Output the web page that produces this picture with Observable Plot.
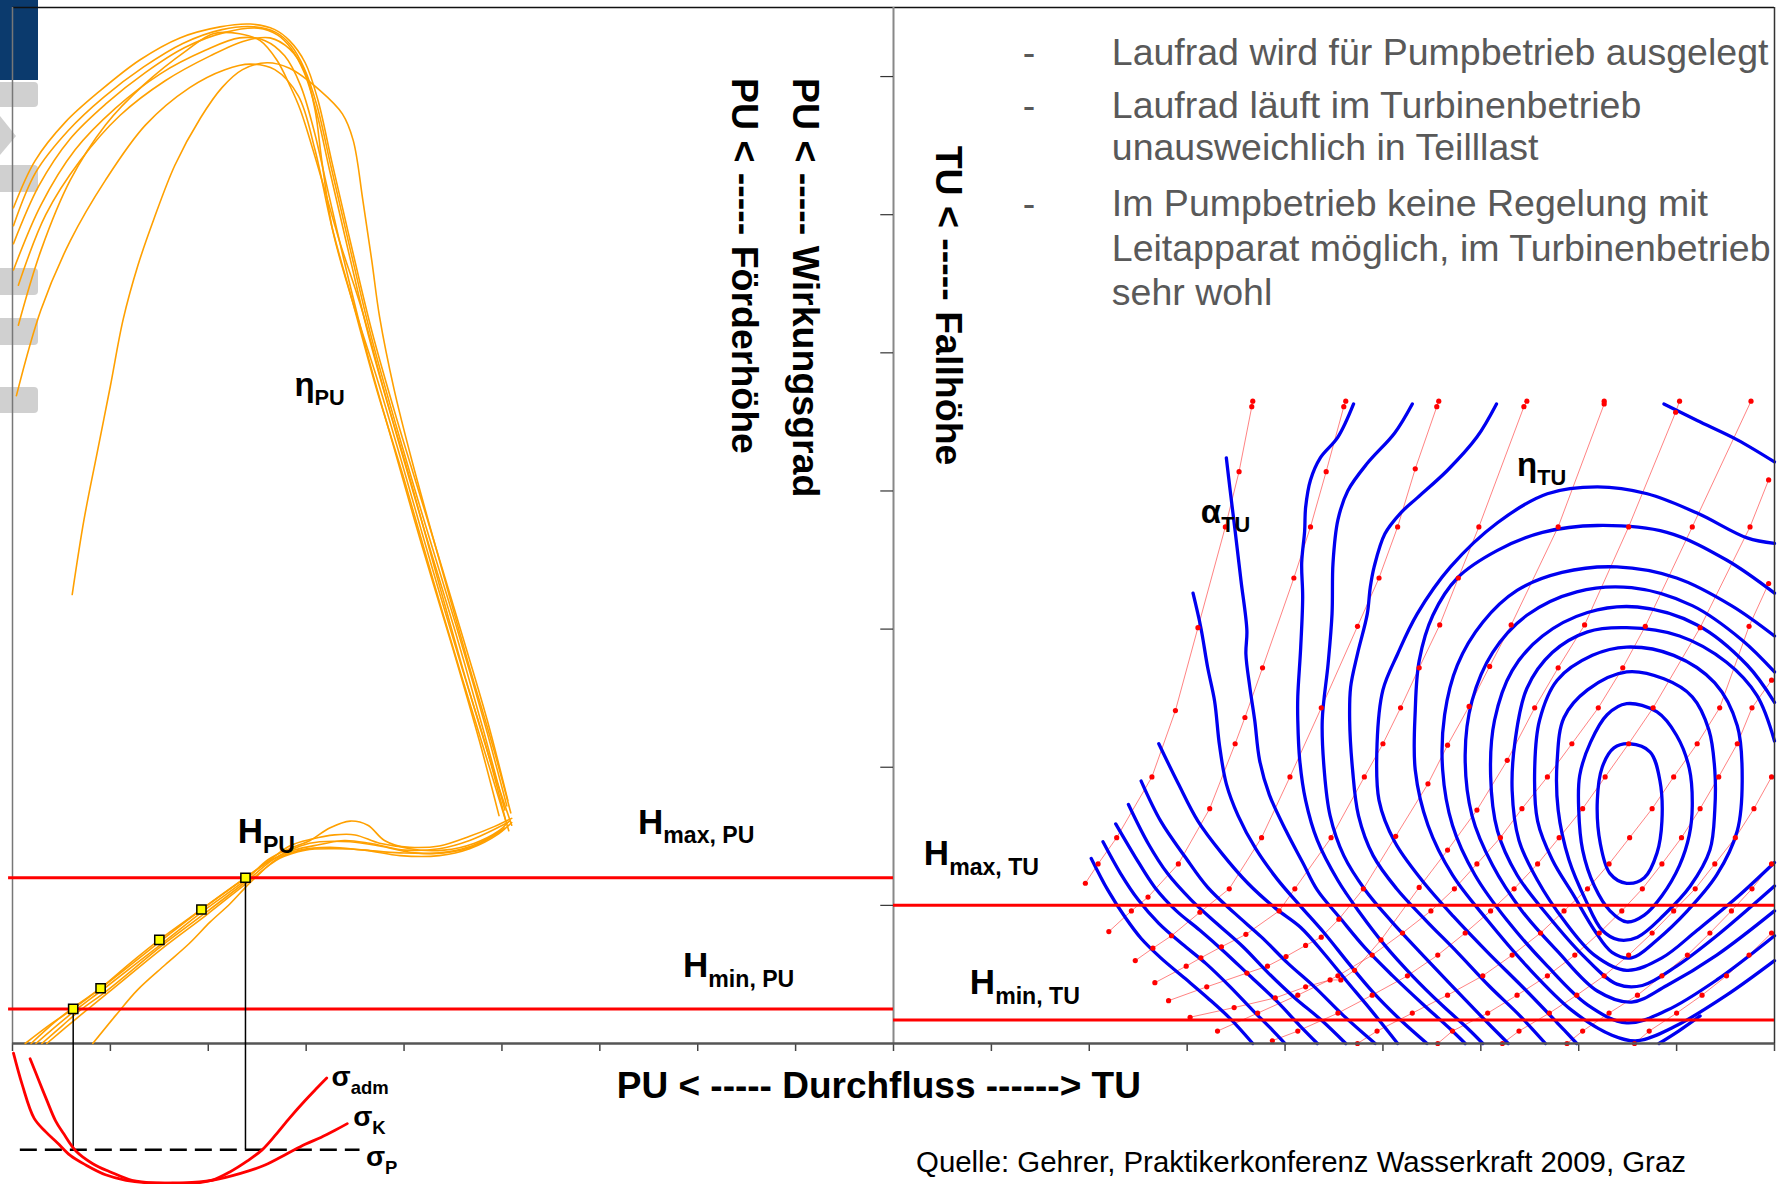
<!DOCTYPE html>
<html><head><meta charset="utf-8">
<script src="https://cdn.jsdelivr.net/npm/d3@7"></script>
<script src="https://cdn.jsdelivr.net/npm/@observablehq/plot@0.6"></script>
<style>
html,body{margin:0;padding:0;background:#fff;overflow:hidden;}
#wrap{position:relative;width:1780px;height:1184px;}
.deco{position:absolute;left:0;width:38px;background:#d0d0d0;border-radius:0 4px 4px 0;}
#chart{position:absolute;left:0;top:0;}
</style></head><body>
<div id="wrap">
  <div style="position:absolute;left:0;top:0;width:38px;height:80px;background:#0b3a6d"></div>
  <div class="deco" style="top:82px;height:25px"></div>
  <svg style="position:absolute;left:0;top:116px" width="20" height="40"><polygon points="0,0 16,20 0,39" fill="#d0d0d0"/></svg>
  <div class="deco" style="top:165px;height:27px"></div>
  <div class="deco" style="top:268px;height:27px"></div>
  <div class="deco" style="top:318px;height:27px"></div>
  <div class="deco" style="top:387px;height:26px"></div>
  <div id="chart"></div>
</div>
<script>
// ---------- axis ticks ----------
const xTicks = [0,100,200,300,400,500,600,700,800,900,1000,1100,1200,1300,1400,1500,1600,1700,1800];
const yTicksTU = [100,200,300,400,500,600,700];

// ---------- pump mode (PU): efficiency curves ----------
const etaPU1 = [[1,605],[23,639],[54,667],[90,690],[130,712],[171,728],[212,736],[243,738],[268,734],[283,726],[299,710],[312,683],[326,639],[345,581],[367,516],[393,451],[424,379],[455,306],[485,234],[506,176]];
const etaPU2 = [[1,579],[27,621],[59,655],[95,680],[136,703],[176,721],[217,732],[251,735],[271,730],[285,720],[298,703],[310,676],[324,632],[343,574],[365,509],[391,444],[421,371],[452,299],[481,227],[503,169]];
const etaPU3 = [[1,560],[29,607],[64,647],[105,677],[151,702],[197,719],[232,728],[258,726],[278,715],[294,694],[308,661],[322,618],[340,563],[363,498],[389,433],[418,361],[449,288],[477,219],[497,165]];
const etaPU4 = [[6,549],[34,600],[69,639],[110,672],[156,697],[202,715],[238,726],[263,728],[283,720],[299,703],[309,676],[316,639],[327,589],[347,538],[373,480],[400,415],[428,346],[457,277],[485,212],[504,161]];
const etaPU5 = [[6,520],[29,574],[59,625],[95,665],[134,694],[178,719],[205,731],[232,731],[253,726],[270,712],[283,694],[294,676],[314,630],[334,581],[357,531],[381,469],[408,404],[436,332],[465,259],[492,196],[510,158]];
const etaPU6 = [[4,469],[29,531],[59,581],[95,625],[136,665],[181,692],[217,705],[243,709],[268,705],[292,686],[309,647],[326,592],[347,538],[371,476],[399,411],[427,342],[457,270],[485,205],[507,154]];
const etaPU7 = [[1,592],[24,631],[57,661],[93,685],[134,707],[174,724],[214,734],[247,736],[269,732],[284,723],[298,706],[311,679],[325,636],[344,578],[366,513],[392,447],[422,375],[453,303],[483,230],[505,172]];
const etaPUwide = [[61,325],[73,379],[86,426],[100,476],[113,524],[128,563],[144,596],[166,636],[192,670],[214,692],[235,705],[260,710],[283,706],[314,690],[337,673],[348,654],[358,610],[367,567],[375,526],[390,473],[408,422],[436,350],[465,277],[492,212],[509,167]];

// ---------- pump mode: head curves ----------
const hPU1 = [[13,0],[39,14],[62,25],[90,40],[120,58],[150,75],[193,97],[238,120],[263,133],[283,143],[306,148],[329,151],[350,151],[375,145],[406,142],[436,143],[467,150],[492,157],[510,163]];
const hPU2 = [[19,0],[44,16],[64,27],[92,41],[151,74],[193,97],[238,120],[265,133],[288,140],[314,144],[339,147],[365,145],[401,140],[436,141],[467,147],[495,156],[508,161]];
const hPU3 = [[24,0],[47,14],[66,25],[94,40],[152,72],[195,96],[239,119],[261,133],[283,141],[304,147],[324,156],[345,161],[363,158],[380,147],[406,141],[441,140],[472,145],[497,154],[506,160]];
const hPU4 = [[30,0],[51,13],[69,24],[96,38],[153,71],[196,94],[240,118],[268,134],[294,143],[314,146],[345,146],[375,143],[411,138],[441,138],[472,143],[503,156]];
const hPU5 = [[35,0],[55,12],[72,22],[98,37],[155,70],[198,93],[241,117],[273,134],[299,140],[329,141],[360,140],[396,136],[436,136],[467,141],[497,152],[510,160]];
const hPUwide = [[82,0],[105,20],[128,39],[156,57],[180,72],[202,88],[222,101],[238,113],[248,120],[271,134],[294,140],[324,142],[360,140],[396,138],[436,138],[469,143],[500,154]];
const pumpPoints = [[62,25],[90,40],[150,75],[193,97],[238,120]];

// ---------- cavitation (sigma) curves ----------
const sigmaAdm = [[1,-7],[10,-30],[22,-54],[34,-64],[46,-72],[59,-81],[75,-88],[95,-95],[116,-99],[141,-101],[163,-101],[187,-101],[204,-99],[222,-93],[240,-85],[255,-77],[269,-66],[283,-54],[298,-42],[310,-33],[321,-25]];
const sigmaK = [[18,-11],[27,-27],[35,-41],[44,-56],[52,-65],[65,-78],[82,-87],[100,-93],[122,-99],[149,-101],[175,-101],[204,-99],[233,-94],[258,-88],[280,-80],[299,-73],[315,-68],[329,-63],[342,-58]];
const sigmaP = -77;

// ---------- head limits ----------
const hMaxPU = 120, hMinPU = 25, hMaxTU = 100, hMinTU = 17;

// ---------- turbine mode (TU): efficiency hill chart ----------
const etaTUd1 = [[1102,134],[1119,111],[1137,91],[1153,76],[1173,62],[1198,47],[1221,33],[1244,18],[1267,0]];
const etaTUd2 = [[1114,146],[1132,123],[1150,104],[1171,87],[1195,72],[1219,58],[1244,41],[1267,24],[1288,9],[1300,0]];
const etaTUd3 = [[1127,159],[1147,135],[1167,113],[1189,96],[1213,82],[1237,67],[1264,49],[1291,31],[1315,13],[1333,0]];
const etaTUd4 = [[1140,173],[1160,145],[1180,123],[1204,104],[1230,87],[1257,70],[1283,51],[1310,33],[1337,17],[1362,0]];
const etaTUd5 = [[1153,190],[1173,161],[1198,135],[1221,113],[1249,94],[1276,77],[1303,58],[1330,41],[1360,20],[1392,0]];
const etaTUd6 = [[1171,217],[1191,188],[1211,161],[1235,138],[1262,116],[1290,98],[1316,84],[1340,65],[1362,46],[1388,24],[1415,0]];
const etaTUs7 = [[1206,326],[1214,301],[1221,272],[1228,248],[1233,216],[1240,188],[1252,165],[1270,141],[1292,119],[1315,100],[1340,80],[1365,58],[1390,37],[1418,17],[1445,0]];
const etaTUs8 = [[1240,424],[1244,400],[1249,371],[1255,335],[1261,299],[1260,282],[1264,258],[1269,234],[1274,205],[1284,180],[1301,154],[1318,131],[1333,111],[1356,91],[1382,69],[1410,49],[1440,29],[1468,11],[1484,0]];
const etaTUg = [[1370,463],[1354,439],[1336,424],[1326,408],[1321,388],[1320,371],[1317,348],[1318,323],[1316,287],[1313,251],[1313,234],[1315,205],[1321,176],[1333,147],[1354,118],[1376,95],[1402,71],[1430,49],[1460,28],[1488,10],[1502,0]];
const etaTUh = [[1430,463],[1412,442],[1384,420],[1364,400],[1354,379],[1349,348],[1348,311],[1344,275],[1338,234],[1340,198],[1346,165],[1360,136],[1382,111],[1408,89],[1438,66],[1470,42],[1500,20],[1528,0]];
const etaTUi = [[1516,463],[1496,439],[1466,415],[1435,395],[1418,384],[1402,369],[1391,345],[1387,330],[1384,311],[1374,282],[1367,258],[1366,234],[1369,198],[1375,165],[1390,136],[1414,112],[1444,89],[1476,66],[1508,42],[1540,20],[1566,0]];
const etaTU10 = [[1800,362],[1772,366],[1721,384],[1670,398],[1619,403],[1568,398],[1517,377],[1469,345],[1435,311],[1415,282],[1400,256],[1394,217],[1396,176],[1412,146],[1440,118],[1472,92],[1507,66],[1544,40],[1578,15],[1598,0]];
const etaTU10r = [[1682,0],[1702,9],[1724,20]];
const etaTU9 = [[1800,326],[1751,350],[1690,370],[1619,375],[1563,370],[1517,357],[1476,337],[1451,310],[1437,277],[1433,241],[1433,198],[1446,158],[1471,122],[1507,89],[1547,56],[1593,24],[1634,6],[1660,2],[1700,13],[1751,35],[1800,60]];
const etaTU8 = [[1800,295],[1756,317],[1700,337],[1639,345],[1583,341],[1537,328],[1502,305],[1476,274],[1463,238],[1461,198],[1471,158],[1494,122],[1527,89],[1568,56],[1609,28],[1649,15],[1690,24],[1741,46],[1800,78]];
const etaTU7 = [[1800,269],[1767,292],[1716,317],[1654,330],[1598,327],[1547,310],[1512,283],[1491,248],[1484,209],[1491,165],[1512,129],[1542,96],[1578,67],[1619,38],[1654,30],[1690,42],[1741,64],[1800,96]];
const etaTU6 = [[1800,247],[1772,274],[1721,303],[1660,316],[1609,312],[1563,295],[1532,270],[1514,234],[1510,194],[1517,154],[1537,122],[1568,93],[1604,64],[1639,43],[1665,42],[1700,56],[1741,78],[1800,114]];
const etaTU5 = [[1800,219],[1782,252],[1751,276],[1703,295],[1649,301],[1609,298],[1573,283],[1547,257],[1535,219],[1532,183],[1539,147],[1558,118],[1585,89],[1616,64],[1649,53],[1685,62],[1721,82],[1762,106],[1800,131]];
const etaTUtop = [[1687,463],[1721,451],[1762,437],[1800,421]];
const etaTU4 = [[1649,287],[1697,281],[1739,261],[1762,230],[1767,190],[1762,154],[1741,122],[1711,96],[1680,75],[1654,62],[1634,66],[1616,82],[1595,107],[1573,133],[1558,161],[1555,198],[1560,234],[1578,263],[1614,281]];
const etaTU3 = [[1649,269],[1687,264],[1716,251],[1733,227],[1739,198],[1739,169],[1734,140],[1714,114],[1687,93],[1660,77],[1641,75],[1624,82],[1607,104],[1590,133],[1579,169],[1578,205],[1585,236],[1609,256]];
const etaTU2 = [[1649,246],[1680,240],[1700,223],[1713,199],[1716,172],[1713,151],[1703,129],[1685,107],[1667,93],[1649,88],[1632,96],[1616,114],[1604,140],[1600,169],[1601,194],[1612,218],[1629,238]];
const etaTU1 = [[1652,217],[1673,211],[1683,190],[1685,161],[1680,138],[1667,120],[1649,116],[1632,123],[1622,145],[1619,176],[1624,200],[1636,214]];

// ---------- turbine mode: guide vane opening lines ----------
const gv1 = [[1267,465],[1266,461],[1253,414],[1239,374],[1211,301],[1188,241],[1164,193],[1128,149],[1109,130],[1096,116]];
const gv2 = [[1362,465],[1360,461],[1342,414],[1326,374],[1309,337],[1277,272],[1259,236],[1249,217],[1223,170],[1191,130],[1160,106],[1143,96],[1120,81]];
const gv3 = [[1457,465],[1455,461],[1433,416],[1415,374],[1396,337],[1374,302],[1337,243],[1305,193],[1276,149],[1243,112],[1213,95],[1184,78],[1165,69],[1147,60]];
const gv4 = [[1547,465],[1544,461],[1498,374],[1477,337],[1458,303],[1437,272],[1418,243],[1400,217],[1381,193],[1347,149],[1310,112],[1294,96],[1260,79],[1235,70],[1214,62],[1199,56],[1167,44]];
const gv5 = [[1626,465],[1626,463],[1579,374],[1531,303],[1509,273],[1488,244],[1466,216],[1446,188],[1413,150],[1380,112],[1355,90],[1337,77],[1321,71],[1301,63],[1282,56],[1261,51],[1220,41],[1181,31]];
const gv6 = [[1703,465],[1699,457],[1651,374],[1606,303],[1579,272],[1555,243],[1527,205],[1496,169],[1466,140],[1437,113],[1398,75],[1371,53],[1357,46],[1346,46],[1321,41],[1290,33],[1248,26],[1203,19]];
const gv7 = [[1776,465],[1716,374],[1668,302],[1645,272],[1620,243],[1593,217],[1568,193],[1542,170],[1520,149],[1496,130],[1473,112],[1449,96],[1420,80],[1389,64],[1354,49],[1313,35],[1272,22],[1231,9]];
const gv8 = [[1794,408],[1775,374],[1724,301],[1676,243],[1651,217],[1627,193],[1604,170],[1580,149],[1558,130],[1534,112],[1510,96],[1484,80],[1456,64],[1425,49],[1389,35],[1354,22],[1313,9],[1287,2]];
const gv9 = [[1794,333],[1774,302],[1744,243],[1721,217],[1697,193],[1675,170],[1652,149],[1631,130],[1609,112],[1585,96],[1561,80],[1532,64],[1502,49],[1466,35],[1430,22],[1394,9],[1374,0]];
const gv10 = [[1797,263],[1777,243],[1762,217],[1743,193],[1724,170],[1705,149],[1685,130],[1665,112],[1644,96],[1621,80],[1596,64],[1568,49],[1537,35],[1507,22],[1471,9],[1456,0]];
const gv11 = [[1797,193],[1779,170],[1760,149],[1739,130],[1719,112],[1697,96],[1675,80],[1651,64],[1626,49],[1598,35],[1570,22],[1539,9],[1522,0]];
const gv12 = [[1797,130],[1777,112],[1756,96],[1734,80],[1711,64],[1685,49],[1660,35],[1631,22],[1604,9],[1588,0]];
const gv13 = [[1797,80],[1774,64],[1751,49],[1726,35],[1700,22],[1672,9],[1657,0]];

// ---------- texts ----------
const bulletLines = ["Laufrad wird für Pumpbetrieb ausgelegt","Laufrad läuft im Turbinenbetrieb","unausweichlich in Teilllast","Im Pumpbetrieb keine Regelung mit","Leitapparat möglich, im Turbinenbetrieb","sehr wohl"];
const axisTitles = ["PU < ----- Wirkungsgrad","PU < ----- Förderhöhe","TU < ----- Fallhöhe"];
const xTitle = "PU < ----- Durchfluss ------> TU";
const source = "Quelle: Gehrer, Praktikerkonferenz Wasserkraft 2009, Graz";

// ---------- build tables ----------
const toRows = groups => groups.flatMap(([id, pts]) => pts.map(([x, y]) => ({id, x, y})));
const etaPURows = toRows([["1",etaPU1],["2",etaPU2],["3",etaPU3],["4",etaPU4],["5",etaPU5],["6",etaPU6],["7",etaPU7],["w",etaPUwide]]);
const hPURows = toRows([["1",hPU1],["2",hPU2],["3",hPU3],["4",hPU4],["5",hPU5],["w",hPUwide]]);
const sigmaRows = toRows([["adm",sigmaAdm],["K",sigmaK]]);
const openTURows = toRows([["d1",etaTUd1],["d2",etaTUd2],["d3",etaTUd3],["d4",etaTUd4],["d5",etaTUd5],["d6",etaTUd6],["s7",etaTUs7],["s8",etaTUs8],["g",etaTUg],["h",etaTUh],["i",etaTUi],["10",etaTU10],["10r",etaTU10r],["9",etaTU9],["8",etaTU8],["7",etaTU7],["6",etaTU6],["5",etaTU5],["top",etaTUtop]]);
const loopTURows = toRows([["4",etaTU4],["3",etaTU3],["2",etaTU2],["1",etaTU1]]);
const gvRows = toRows([gv1,gv2,gv3,gv4,gv5,gv6,gv7,gv8,gv9,gv10,gv11,gv12,gv13].map((g,i)=>[String(i),g]));
const pumpRows = pumpPoints.map(([x,y]) => ({x,y}));

const F = "Liberation Sans, Arial, Helvetica, sans-serif";
const blue = "#0000f0", orange = "#ffa000", red = "#ff0000";

const chart = Plot.plot({
  width: 1780, height: 1184,
  marginTop: 7, marginRight: 6, marginBottom: 141, marginLeft: 12,
  x: {domain: [0, 1800], axis: null},
  y: {domain: [0, 750], axis: null},
  style: {background: "transparent", fontFamily: F, overflow: "visible"},
  marks: [
    // turbine hill chart
    Plot.line(gvRows, {x: "x", y: "y", z: "id", stroke: "#ff3030", strokeOpacity: 0.6, strokeWidth: 1}),
    Plot.line(openTURows, {x: "x", y: "y", z: "id", stroke: blue, strokeWidth: 3.3, curve: "catmull-rom"}),
    Plot.line(loopTURows, {x: "x", y: "y", z: "id", stroke: blue, strokeWidth: 3.3, curve: "catmull-rom-closed"}),
    Plot.dot(gvRows, {x: "x", y: "y", r: 2.6, fill: red, stroke: null}),

    // frame
    Plot.ruleY([750], {x1: 0, x2: 1800, stroke: "#111", strokeWidth: 1.5}),
    Plot.ruleX([0], {y1: 0, y2: 750, stroke: "#777", strokeWidth: 1.5}),
    Plot.ruleX([1800], {y1: 0, y2: 750, stroke: "#333", strokeWidth: 1.5}),
    Plot.ruleX([900], {y1: 0, y2: 750, stroke: "#888", strokeWidth: 2}),
    Plot.ruleY(yTicksTU, {x1: 887, x2: 900, stroke: "#333", strokeWidth: 1.2}),
    Plot.ruleX(xTicks, {y1: 0, y2: -5.8, stroke: "#444", strokeWidth: 1.5}),
    Plot.ruleY([0], {x1: 0, x2: 1800, stroke: "#555", strokeWidth: 2.5}),

    // pump characteristics
    Plot.line(etaPURows, {x: "x", y: "y", z: "id", stroke: orange, strokeWidth: 1.6, curve: "catmull-rom"}),
    Plot.line(hPURows, {x: "x", y: "y", z: "id", stroke: orange, strokeWidth: 1.6, curve: "catmull-rom"}),

    // head limits
    Plot.ruleY([hMaxPU, hMinPU], {x1: -4, x2: 900, stroke: red, strokeWidth: 3}),
    Plot.ruleY([hMaxTU, hMinTU], {x1: 900, x2: 1800, stroke: red, strokeWidth: 3}),

    // cavitation
    Plot.ruleX([pumpPoints[0], pumpPoints[4]], {x: d => d[0], y1: d => d[1], y2: sigmaP, stroke: "#000", strokeWidth: 1.5}),
    Plot.ruleY([sigmaP], {x1: 8, x2: 355, stroke: "#000", strokeWidth: 2.5, strokeDasharray: "17,8"}),
    Plot.line(sigmaRows, {x: "x", y: "y", z: "id", stroke: red, strokeWidth: 2.8, curve: "catmull-rom"}),
    Plot.dot(pumpRows, {x: "x", y: "y", symbol: "square", r: 5.2, fill: "#ffff00", stroke: "#000", strokeWidth: 1.5}),

    // labels with subscripts
    Plot.text([
      {x: 230, y: 145, t: "H|PU"}, {x: 639, y: 152, t: "H|max, PU"}, {x: 685, y: 48, t: "H|min, PU"},
      {x: 931, y: 129, t: "H|max, TU"}, {x: 978, y: 36, t: "H|min, TU"}
    ], {x: "x", y: "y", text: "t", fontSize: 35, fontWeight: "bold", textAnchor: "start", lineAnchor: "bottom", fill: "#000"}),
    Plot.text([
      {x: 288, y: 469, t: "η|PU"}, {x: 1537, y: 411, t: "η|TU"}, {x: 1214, y: 377, t: "α|TU"}
    ], {x: "x", y: "y", text: "t", fontSize: 33, fontWeight: "bold", textAnchor: "start", lineAnchor: "bottom", fill: "#000"}),
    Plot.text([
      {x: 326, y: -31, t: "σ|adm"}, {x: 348, y: -60, t: "σ|K"}, {x: 361, y: -89, t: "σ|P"}
    ], {x: "x", y: "y", text: "t", fontSize: 28, fontWeight: "bold", textAnchor: "start", lineAnchor: "bottom", fill: "#000"}),

    // rotated axis titles
    Plot.text(axisTitles, {x: [810, 747, 956], y: [699, 699, 650], text: d => d, rotate: 90, textAnchor: "start", lineAnchor: "middle", fontSize: 37.5, fontWeight: "bold", fill: "#000"}),
    // x title
    Plot.text([xTitle], {x: [885], y: [-31], text: d => d, textAnchor: "middle", lineAnchor: "middle", fontSize: 37, fontWeight: "bold", fill: "#000"}),
    // bullets
    Plot.text(bulletLines, {x: [1123,1123,1123,1123,1123,1123], y: [717,679,648,608,575,543], text: d => d, textAnchor: "start", lineAnchor: "middle", fontSize: 37.5, fill: "#595959"}),
    Plot.text(["-","-","-"], {x: [1032,1032,1032], y: [717,679,608], text: d => d, textAnchor: "start", lineAnchor: "middle", fontSize: 37.5, fill: "#595959"}),
    // source
    Plot.text([source], {x: [923], y: [-86], text: d => d, textAnchor: "start", lineAnchor: "middle", fontSize: 29.4, fill: "#000"})
  ]
});
document.getElementById("chart").appendChild(chart);

// subscripts: split "main|sub" into tspans
d3.select(chart).selectAll("text").each(function() {
  const s = this.textContent;
  if (!s.includes("|")) return;
  const [a, b] = s.split("|");
  const fs = parseFloat(getComputedStyle(this).fontSize) || 30;
  this.textContent = "";
  d3.select(this).append("tspan").text(a);
  d3.select(this).append("tspan").attr("font-size", fs * 0.66).attr("dy", fs * 0.28).text(b);
});
</script>
</body></html>
